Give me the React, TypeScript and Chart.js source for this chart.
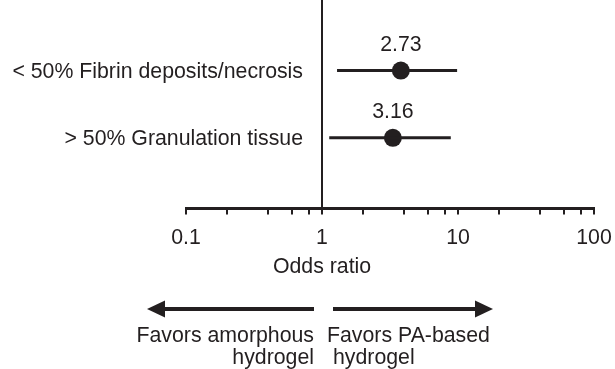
import React, { useEffect, useRef } from "react";
import { Chart, registerables } from "chart.js";

Chart.register(...registerables);

// ---- data ----
const categories = ["< 50% Fibrin deposits/necrosis", "> 50% Granulation tissue"];
const oddsRatios = [3.8, 3.32]; // plotted point positions
const valueLabels = ["2.73", "3.16"];
const ciLower = [1.29, 1.13];
const ciUpper = [9.85, 8.85];
const tickValues = [0.1, 0.2, 0.4, 0.6, 0.8, 1, 2, 4, 6, 8, 10, 20, 40, 60, 80, 100];
const majorTickLabels = ["0.1", "1", "10", "100"];
const axisTitle = "Odds ratio";
const leftNote = ["Favors amorphous", "hydrogel"];
const rightNote = ["Favors PA-based", "hydrogel"];

const INK = "#231f20";
const FONT = '"Liberation Sans", Arial, Helvetica, sans-serif';
const FS = 21.3;

const overlayPlugin = {
  id: "forestOverlay",
  afterDatasetsDraw(chart: any) {
    const { ctx, scales } = chart;
    const x = scales.x;
    const y = scales.y;
    const x1 = x.getPixelForValue(1);
    ctx.save();
    ctx.fillStyle = INK;
    ctx.strokeStyle = INK;
    ctx.font = `${FS}px ${FONT}`;
    ctx.textBaseline = "alphabetic";

    categories.forEach((c, i) => {
      const py = y.getPixelForValue(i);
      ctx.textAlign = "right";
      ctx.fillText(c, x1 - 19, py + 7);
      ctx.textAlign = "center";
      ctx.fillText(valueLabels[i], x.getPixelForValue(oddsRatios[i]), py - 19.5);
    });

    // axis title centred on OR = 1
    ctx.textAlign = "center";
    ctx.fillText(axisTitle, x1, 273);

    // arrows
    const ay = 309;
    const head = 18;
    const half = 8.5;
    ctx.lineWidth = 4;
    // left
    const lTip = x1 - 175;
    ctx.beginPath();
    ctx.moveTo(x1 - 8, ay);
    ctx.lineTo(lTip + head - 2, ay);
    ctx.stroke();
    ctx.beginPath();
    ctx.moveTo(lTip, ay);
    ctx.lineTo(lTip + head, ay - half);
    ctx.lineTo(lTip + head, ay + half);
    ctx.closePath();
    ctx.fill();
    // right
    const rTip = x1 + 171;
    ctx.beginPath();
    ctx.moveTo(x1 + 11, ay);
    ctx.lineTo(rTip - head + 2, ay);
    ctx.stroke();
    ctx.beginPath();
    ctx.moveTo(rTip, ay);
    ctx.lineTo(rTip - head, ay - half);
    ctx.lineTo(rTip - head, ay + half);
    ctx.closePath();
    ctx.fill();

    // notes
    ctx.textAlign = "right";
    ctx.fillText(leftNote[0], x1 - 8, 341.5);
    ctx.fillText(leftNote[1], x1 - 8, 363.5);
    ctx.textAlign = "left";
    ctx.fillText(rightNote[0], x1 + 5, 341.5);
    ctx.fillText(rightNote[1], x1 + 11, 363.5);
    ctx.restore();
  },
};

export default function App() {
  const ref = useRef<HTMLCanvasElement | null>(null);

  useEffect(() => {
    document.body.style.margin = "0";
    const canvas = ref.current!;
    const ciSets = categories.map((_, i) => ({
      type: "line" as const,
      data: [
        { x: ciLower[i], y: i },
        { x: ciUpper[i], y: i },
      ],
      showLine: true,
      borderColor: INK,
      borderWidth: 3,
      pointRadius: 0,
      fill: false,
    }));
    const chart = new Chart(canvas, {
      type: "scatter",
      data: {
        datasets: [
          ...ciSets,
          {
            type: "scatter" as const,
            data: oddsRatios.map((v, i) => ({ x: v, y: i })),
            backgroundColor: INK,
            borderColor: INK,
            borderWidth: 0,
            pointRadius: 9,
          },
        ] as any,
      },
      options: {
        responsive: false,
        animation: false,
        devicePixelRatio: 1,
        layout: { autoPadding: false, padding: { left: 186, right: 21, top: 0, bottom: 107 } },
        plugins: { legend: { display: false }, tooltip: { enabled: false } },
        scales: {
          x: {
            type: "logarithmic",
            min: 0.1,
            max: 100,
            afterBuildTicks: (scale: any) => {
              scale.ticks = tickValues.map((v) => ({ value: v }));
            },
            afterFit: (scale: any) => {
              scale.paddingLeft = 0;
              scale.paddingRight = 0;
            },
            ticks: {
              autoSkip: false,
              maxRotation: 0,
              padding: 11,
              color: INK,
              font: { family: FONT, size: FS },
              callback: (v: any) => {
                const s = String(Number(v));
                return majorTickLabels.includes(s) ? s : "";
              },
            },
            border: { display: true, color: INK, width: 3 },
            grid: {
              drawOnChartArea: true,
              drawTicks: true,
              tickLength: 6,
              tickWidth: 2,
              tickColor: INK,
              lineWidth: 2,
              color: (c: any) => (c.tick && c.tick.value === 1 ? INK : "rgba(0,0,0,0)"),
            },
          },
          y: {
            type: "linear",
            display: false,
            min: -1.05,
            max: 2.05,
            reverse: true,
          },
        },
      },
      plugins: [overlayPlugin],
    });
    return () => chart.destroy();
  }, []);

  return (
    <div style={{ position: "fixed", left: 0, top: 0, width: 615, height: 369, background: "#fff" }}>
      <canvas ref={ref} width={615} height={369} />
    </div>
  );
}
